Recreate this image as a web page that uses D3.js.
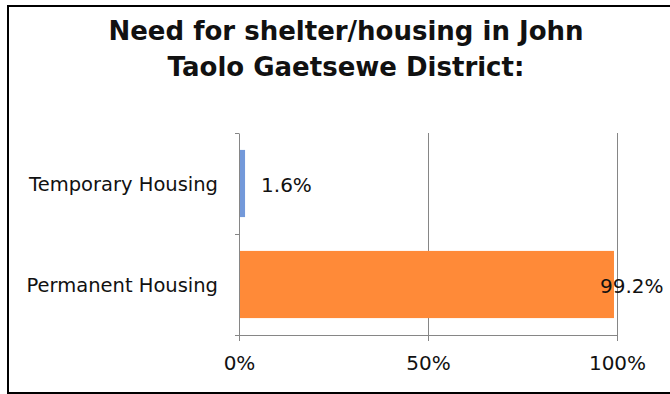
<!DOCTYPE html>
<html>
<head>
<meta charset="utf-8">
<script src="https://cdn.jsdelivr.net/npm/d3@7"></script>
<style>
  html, body { margin: 0; padding: 0; background: #fff; }
  svg { display: block; }
</style>
</head>
<body>
<svg id="chart" width="670" height="394"></svg>
<script>
// Housing need shares by category (percent)
const categories = ["Temporary Housing", "Permanent Housing"];
const values = [1.6, 99.2];
const valueLabels = ["1.6%", "99.2%"];
const xTicks = [0, 50, 100];
const titleLines = ["Need for shelter/housing in John", "Taolo Gaetsewe District:"];
const barColors = ["#7399DA", "#FF8A38"];

const svg = d3.select("#chart");
const W = 670, H = 394;
const font = "'DejaVu Sans', sans-serif";
const ink = "#111";
const axisGray = "#868686";

// outer chart border (right edge runs past the frame)
svg.append("rect")
  .attr("x", 8).attr("y", 6)
  .attr("width", 720).attr("height", 387)
  .attr("fill", "none").attr("stroke", "#000").attr("stroke-width", 2);

// title
svg.append("g").selectAll("text").data(titleLines).join("text")
  .attr("x", 346)
  .attr("y", (d, i) => 39.5 + i * 36.2)
  .attr("text-anchor", "middle")
  .attr("font-family", font)
  .attr("font-weight", "bold")
  .attr("font-size", 26)
  .attr("fill", ink)
  .text(d => d);

// scales
const x = d3.scaleLinear().domain([0, 100]).range([239, 617]);
const y = d3.scaleBand().domain(categories).range([133, 335])
  .paddingInner(0.335).paddingOuter(0.1675);
const yEdges = d3.scaleLinear().domain([0, categories.length]).range([133, 335]);

// vertical gridlines
svg.append("g").selectAll("line").data(xTicks.filter(t => t > 0)).join("line")
  .attr("x1", d => x(d)).attr("x2", d => x(d))
  .attr("y1", 133).attr("y2", 335)
  .attr("stroke", axisGray).attr("stroke-width", 1)
  .attr("shape-rendering", "crispEdges");

// bars
svg.append("g").selectAll("rect").data(categories).join("rect")
  .attr("x", x(0))
  .attr("y", d => y(d))
  .attr("width", (d, i) => x(values[i]) - x(0))
  .attr("height", y.bandwidth())
  .attr("fill", (d, i) => barColors[i]);

// bottom axis
const xAxis = svg.append("g")
  .attr("transform", "translate(0,335)")
  .call(d3.axisBottom(x).tickValues(xTicks).tickSize(6).tickSizeOuter(0)
    .tickFormat(d => d + "%"));
xAxis.select(".domain").attr("stroke", axisGray);
xAxis.selectAll(".tick line").attr("stroke", axisGray);
xAxis.selectAll(".tick text")
  .attr("y", 35).attr("dy", 0)
  .attr("font-family", font).attr("font-size", 20).attr("fill", ink);

// left axis with ticks at category boundaries
const yAxis = svg.append("g")
  .attr("transform", "translate(239,0)")
  .call(d3.axisLeft(yEdges).tickValues(d3.range(categories.length + 1))
    .tickSize(4).tickSizeOuter(0).tickFormat(""));
yAxis.select(".domain").attr("stroke", axisGray);
yAxis.selectAll(".tick line").attr("stroke", axisGray);

// category labels
svg.append("g").selectAll("text").data(categories).join("text")
  .attr("x", 218)
  .attr("y", d => y(d) + y.bandwidth() / 2)
  .attr("dy", "0.37em")
  .attr("text-anchor", "end")
  .attr("font-family", font).attr("font-size", 19.5).attr("fill", ink)
  .text(d => d);

// value labels
svg.append("g").selectAll("text").data(categories).join("text")
  .attr("x", (d, i) => values[i] > 50 ? x(values[i]) - 14 : x(values[i]) + 16)
  .attr("y", d => y(d) + y.bandwidth() / 2)
  .attr("dy", "0.4em")
  .attr("font-family", font).attr("font-size", 20).attr("fill", ink)
  .text((d, i) => valueLabels[i]);
</script>
</body>
</html>
